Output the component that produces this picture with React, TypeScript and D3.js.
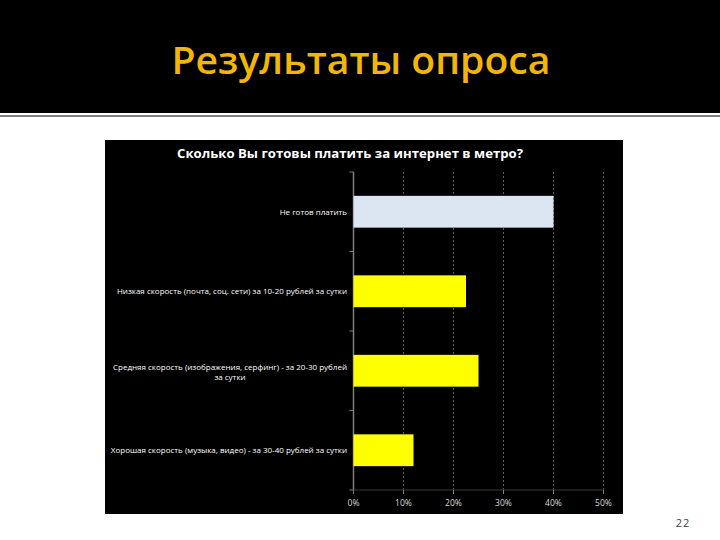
import React from 'react';
import * as d3 from 'd3';

// данные опроса
const categories = [
  'Не готов платить',
  'Низкая скорость (почта, соц. сети) за 10-20 рублей за сутки',
  'Средняя скорость (изображения, серфинг) - за 20-30 рублей|за сутки',
  'Хорошая скорость (музыка, видео) - за 30-40 рублей за сутки',
];
const values = [40, 22.5, 25, 12];
const barColors = ['#dce6f2', '#ffff00', '#ffff00', '#ffff00'];
const tickValues = [0, 10, 20, 30, 40, 50];

const pageTitle = 'Результаты опроса';
const chartTitle = 'Сколько Вы готовы платить за интернет в метро?';
const pageNumber = '22';

const W = 720;
const H = 540;

const App: React.FC = () => {
  const x = d3.scaleLinear().domain([0, 50]).range([353.5, 603.5]);
  const y = d3
    .scaleBand<string>()
    .domain(categories)
    .range([172, 490])
    .paddingInner(0.6)
    .paddingOuter(0.3);

  const step = y.step();
  // деления между категориями
  const bandEdges = d3.range(categories.length + 1).map((i) => 172 + i * step);

  return (
    <svg
      width={W}
      height={H}
      style={{ position: 'absolute', left: 0, top: 0, background: '#fff' }}
      fontFamily="'Open Sans', sans-serif"
    >
      {/* шапка слайда */}
      <rect x={0} y={0} width={W} height={113} fill="#000" />
      <rect x={0} y={115} width={W} height={2} fill="#7f7f7f" />
      <text
        x={361}
        y={74}
        textAnchor="middle"
        fill="#f2b705"
        fontSize={37}
        fontWeight={600}
        textLength={379}
        lengthAdjust="spacingAndGlyphs"
      >
        {pageTitle}
      </text>

      {/* панель диаграммы */}
      <rect x={105} y={140} width={518} height={374} fill="#000" />
      <text
        x={350}
        y={158}
        textAnchor="middle"
        fill="#fff"
        fontSize={13}
        fontWeight={700}
        textLength={346}
        lengthAdjust="spacingAndGlyphs"
      >
        {chartTitle}
      </text>

      {/* сетка */}
      {tickValues.slice(1).map((t) => (
        <line
          key={t}
          x1={x(t)}
          x2={x(t)}
          y1={172}
          y2={490}
          stroke="#5a5a5a"
          strokeWidth={1}
          strokeDasharray="2,2"
        />
      ))}

      {/* оси */}
      <line x1={x(0)} x2={x(0)} y1={172} y2={490} stroke="#808080" strokeWidth={1.5} />
      <line x1={x(0)} x2={x(50)} y1={490} y2={490} stroke="#3a3a3a" strokeWidth={1} />
      {bandEdges.map((e, i) => (
        <line key={i} x1={x(0) - 4} x2={x(0)} y1={e} y2={e} stroke="#808080" strokeWidth={1} />
      ))}
      {tickValues.map((t) => (
        <g key={t}>
          <line x1={x(t)} x2={x(t)} y1={490} y2={494} stroke="#808080" strokeWidth={1} />
          <text x={x(t)} y={506} textAnchor="middle" fill="#d9d9d9" fontSize={8.5}>
            {t}%
          </text>
        </g>
      ))}

      {/* столбцы */}
      {categories.map((c, i) => (
        <rect
          key={c}
          x={x(0)}
          y={y(c)}
          width={x(values[i]) - x(0)}
          height={y.bandwidth()}
          fill={barColors[i]}
        />
      ))}

      {/* подписи категорий */}
      {categories.map((c) => {
        const lines = c.split('|');
        const cy = (y(c) ?? 0) + y.bandwidth() / 2;
        if (lines.length === 1) {
          return (
            <text key={c} x={347} y={cy + 3} textAnchor="end" fill="#fff" fontSize={8}>
              {c}
            </text>
          );
        }
        return (
          <g key={c}>
            <text x={347} y={cy - 1} textAnchor="end" fill="#fff" fontSize={8}>
              {lines[0]}
            </text>
            <text x={230} y={cy + 9} textAnchor="middle" fill="#fff" fontSize={8}>
              {lines[1]}
            </text>
          </g>
        );
      })}

      {/* номер слайда */}
      <text x={683} y={527} textAnchor="middle" fill="#404040" fontSize={11} letterSpacing={1}>
        {pageNumber}
      </text>
    </svg>
  );
};

export default App;
